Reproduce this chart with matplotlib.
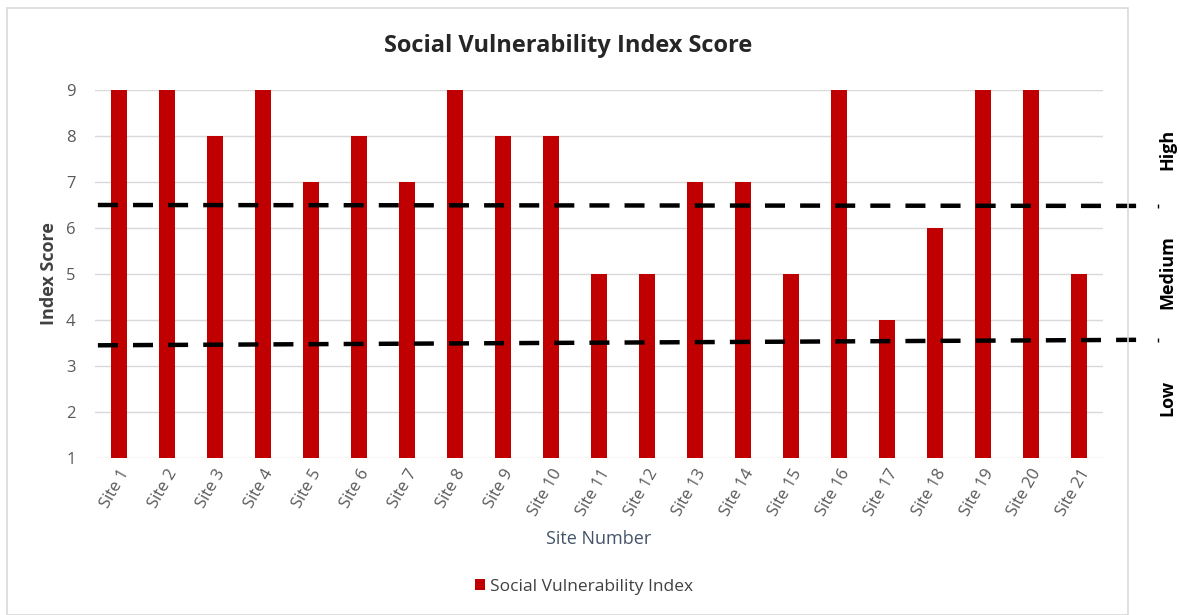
import matplotlib.pyplot as plt
from matplotlib.patches import Rectangle

# Данные: номера площадок и значения индекса
sites = ['Site %d' % i for i in range(1, 22)]
scores = [9, 9, 8, 9, 7, 8, 7, 9, 8, 8, 5, 5, 7, 7, 5, 9, 4, 6, 9, 9, 5]
y_ticks = [1, 2, 3, 4, 5, 6, 7, 8, 9]

# Пороговые уровни (нижняя линия немного наклонена)
high_cut = (6.5, 6.48)
low_cut = (3.45, 3.57)
zones = ['Low', 'Medium', 'High']
zone_y = [2.3, 5.04, 7.7]

plt.rcParams['font.family'] = ['Open Sans', 'DejaVu Sans']

fig = plt.figure(figsize=(11.8, 6.15), dpi=100)
fig.patches.append(Rectangle((7 / 1180, 0), 1121 / 1180, 1 - 8 / 615, transform=fig.transFigure,
                             fill=False, edgecolor='#d9d9d9', linewidth=1.2))

ax = fig.add_axes([95 / 1180, 1 - 458 / 615, 1008 / 1180, 368 / 615])
x = list(range(len(sites)))
ax.bar(x, scores, bottom=0, width=0.33, color='#c00000', zorder=3,
       label='Social Vulnerability Index')
ax.set_xlim(-0.5, len(sites) - 0.5)
ax.set_ylim(1, 9)
ax.set_yticks(y_ticks)
ax.grid(axis='y', color='#d9d9d9', linewidth=1)
for s in ax.spines.values():
    s.set_visible(False)
ax.tick_params(length=0, colors='#595959', labelsize=12)
ax.tick_params(axis='y', pad=14)
ax.tick_params(axis='x', pad=6)
ax.set_xticks(x)
ax.set_xticklabels(sites, rotation=60, ha='right', rotation_mode='anchor')

fig.text(568 / 1180, 1 - 46 / 615, 'Social Vulnerability Index Score', fontsize=17,
         fontweight='bold', color='#262626', ha='center', va='center')
ax.set_ylabel('Index Score', fontsize=13, color='#404040', fontweight='bold', labelpad=6)
ax.set_xlabel('Site Number', fontsize=13, color='#44546a', labelpad=8)

# Пунктирные линии границ зон
xs = (-0.44, 21.4)
dash = (0, (4.5, 3.4))
ax.plot(xs, high_cut, ls=dash, color='black', lw=3.2, clip_on=False, zorder=4)
ax.plot(xs, low_cut, ls=dash, color='black', lw=3.2, clip_on=False, zorder=4)

# Подписи зон справа
for name, yv in zip(zones, zone_y):
    ax.text(21.84, yv, name, rotation=90, ha='center', va='center', fontsize=13,
            fontweight='bold', color='black', clip_on=False)
ax.plot([21.65, 21.65], [high_cut[1], low_cut[1]], ls='none', marker='|', ms=3, mew=1,
        color='black', clip_on=False)

leg = ax.legend(loc='center', bbox_to_anchor=(0.485, -0.35), frameon=False,
                fontsize=12.5, handlelength=0.6, handleheight=0.6, handletextpad=0.3)
for t in leg.get_texts():
    t.set_color('#404040')

fig.savefig('out.png', dpi=100)
